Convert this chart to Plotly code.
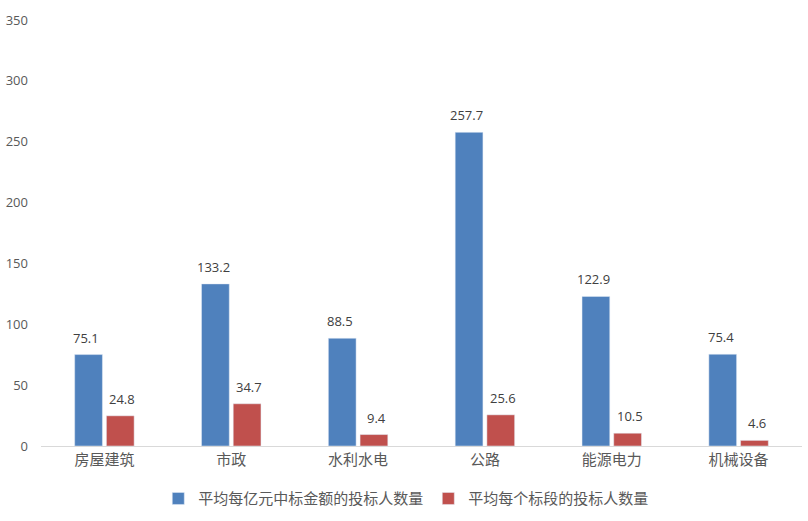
import plotly.graph_objects as go

categories = ["房屋建筑", "市政", "水利水电", "公路", "能源电力", "机械设备"]
series1_name = "平均每亿元中标金额的投标人数量"
series1 = [75.1, 133.2, 88.5, 257.7, 122.9, 75.4]
series2_name = "平均每个标段的投标人数量"
series2 = [24.8, 34.7, 9.4, 25.6, 10.5, 4.6]
y_ticks = [0, 50, 100, 150, 200, 250, 300, 350]

font_family = "Open Sans, Noto Sans CJK SC, sans-serif"
cjk_family = "Noto Sans CJK SC, sans-serif"
blue = "#4F81BD"
red = "#C0504D"
grey = "#595959"

fig = go.Figure()
fig.add_trace(go.Bar(x=categories, y=series1, name=series1_name, marker_color=blue))
fig.add_trace(go.Bar(x=categories, y=series2, name=series2_name, marker_color=red))

annotations = []
for c, v in zip(categories, series1):
    annotations.append(dict(x=c, y=v, text=f"{v:.1f}", showarrow=False, xshift=-18, yshift=17,
                            font=dict(size=13, color="#404040", family=font_family)))
for c, v in zip(categories, series2):
    annotations.append(dict(x=c, y=v, text=f"{v:.1f}", showarrow=False, xshift=18, yshift=17,
                            font=dict(size=13, color="#404040", family=font_family)))

fig.update_layout(
    width=808, height=521,
    margin=dict(l=41, r=6, t=20, b=75),
    plot_bgcolor="white", paper_bgcolor="white",
    barmode="group", bargap=0.5, bargroupgap=0.125,
    font=dict(family=font_family, color=grey, size=13),
    showlegend=True,
    legend=dict(orientation="h", x=0.48, xanchor="center", y=-0.085, yanchor="top",
                font=dict(size=15, color=grey, family=cjk_family), traceorder="normal"),
    annotations=annotations,
)
fig.update_xaxes(showline=True, linecolor="#D9D9D9", linewidth=1, showgrid=False,
                 ticks="", tickfont=dict(size=15, color=grey, family=cjk_family),
                 automargin=False)
fig.update_yaxes(range=[0, 350], tickvals=y_ticks, showgrid=False, zeroline=False,
                 showline=False, ticks="", tickfont=dict(size=13, color=grey),
                 ticklabelstandoff=12, automargin=False)

fig.write_html("out.html", config={"displayModeBar": False},
               post_script="document.body.style.margin='0';")
